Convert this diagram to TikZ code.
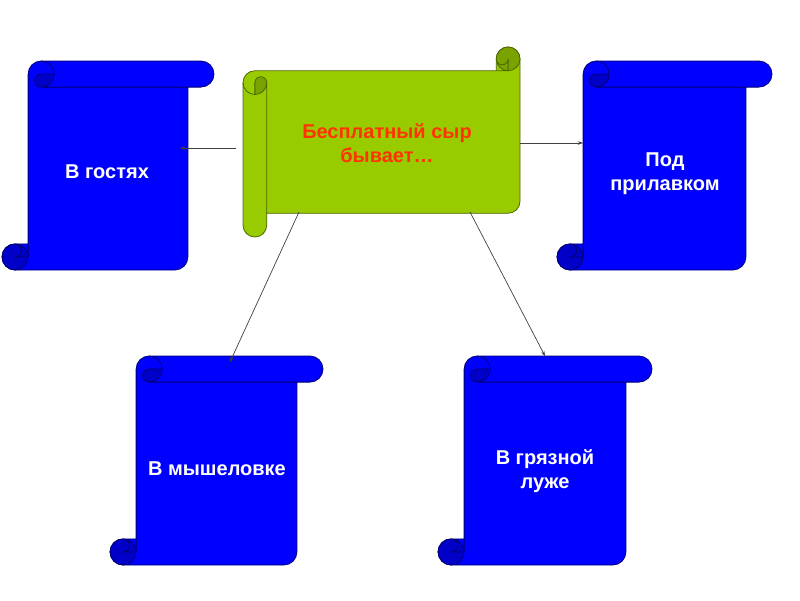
\documentclass[tikz,border=0pt]{standalone}
\usepackage{fontspec}
\setmainfont{Liberation Sans}
\usetikzlibrary{arrows.meta}
\definecolor{blueMain}{HTML}{0000FF}
\definecolor{blueDark}{HTML}{0000C8}
\definecolor{blueLine}{HTML}{000070}
\definecolor{greenMain}{HTML}{99CC00}
\definecolor{greenDark}{HTML}{7AA300}
\definecolor{greenLine}{HTML}{4C6600}
\definecolor{redText}{HTML}{FF3300}

% vertical scroll: l t w h c fill dark line   (y axis points down)
\newcommand{\drawvscroll}[8]{%
\begin{scope}[shift={(#1,#2)}]
\pgfmathsetmacro\zzW{#3}\pgfmathsetmacro\zzH{#4}\pgfmathsetmacro\zzC{#5}%
\pgfmathsetmacro\zzB{\zzC/2}\pgfmathsetmacro\zzQ{\zzC/4}%
\pgfmathsetmacro\zzXc{1.5*\zzC}\pgfmathsetmacro\zzXd{2*\zzC}%
\pgfmathsetmacro\zzXf{\zzW-\zzC}\pgfmathsetmacro\zzXg{\zzW-\zzB}%
\pgfmathsetmacro\zzYc{\zzH-\zzC}\pgfmathsetmacro\zzYd{\zzH-\zzB}%
\filldraw[fill=#6, draw=#8, scrollline]
 (\zzC,\zzYc) -- (\zzC,\zzB) arc[start angle=180, delta angle=90, radius=\zzB]
 -- (\zzXg,0) arc[start angle=270, delta angle=180, radius=\zzB]
 -- (\zzXf,\zzC) -- (\zzXf,\zzYd) arc[start angle=0, delta angle=90, radius=\zzB]
 -- (\zzB,\zzH) arc[start angle=90, delta angle=180, radius=\zzB] -- cycle;
\fill[#7] (\zzB,\zzYd) circle[radius=\zzB];
\fill[#7] (\zzXd,\zzB) arc[start angle=0, delta angle=90, radius=\zzB]
 arc[start angle=90, delta angle=180, radius=\zzQ] -- cycle;
\draw[draw=#8, scrollline]
 (\zzXc,0) arc[start angle=270, delta angle=180, radius=\zzB]
 arc[start angle=90, delta angle=180, radius=\zzQ] -- (\zzXd,\zzB)
 (\zzXf,\zzC) -- (\zzXc,\zzC)
 (\zzB,\zzYc) arc[start angle=270, delta angle=180, radius=\zzQ] -- (\zzC,\zzYd)
 (\zzB,\zzYd) circle[radius=\zzB]
 (\zzC,\zzYd) -- (\zzC,\zzYc);
\end{scope}}

% horizontal scroll: l t w h c fill dark line
\newcommand{\drawhscroll}[8]{%
\begin{scope}[shift={(#1,#2)}]
\pgfmathsetmacro\zzW{#3}\pgfmathsetmacro\zzH{#4}\pgfmathsetmacro\zzC{#5}%
\pgfmathsetmacro\zzB{\zzC/2}\pgfmathsetmacro\zzQ{\zzC/4}%
\pgfmathsetmacro\zzYc{1.5*\zzC}\pgfmathsetmacro\zzYd{2*\zzC}%
\pgfmathsetmacro\zzXf{\zzW-\zzC}\pgfmathsetmacro\zzXg{\zzW-\zzB}%
\pgfmathsetmacro\zzYf{\zzH-\zzC}\pgfmathsetmacro\zzYg{\zzH-\zzB}%
\filldraw[fill=#6, draw=#8, scrollline]
 (\zzXf,\zzC) -- (\zzB,\zzC) arc[start angle=-90, delta angle=-90, radius=\zzB]
 -- (0,\zzYg) arc[start angle=180, delta angle=-180, radius=\zzB]
 -- (\zzC,\zzYf) -- (\zzXg,\zzYf) arc[start angle=90, delta angle=-90, radius=\zzB]
 -- (\zzW,\zzB) arc[start angle=0, delta angle=-180, radius=\zzB] -- cycle;
\fill[#7] (\zzXg,\zzB) circle[radius=\zzB];
\fill[#7] (\zzB,\zzYd) arc[start angle=90, delta angle=-90, radius=\zzB]
 arc[start angle=0, delta angle=-180, radius=\zzQ] -- cycle;
\draw[draw=#8, scrollline]
 (0,\zzYc) arc[start angle=180, delta angle=-180, radius=\zzB]
 arc[start angle=0, delta angle=-180, radius=\zzQ] -- (\zzB,\zzYd)
 (\zzC,\zzYf) -- (\zzC,\zzYc)
 (\zzXf,\zzB) arc[start angle=180, delta angle=-180, radius=\zzQ] -- (\zzXg,\zzC)
 (\zzXg,\zzB) circle[radius=\zzB]
 (\zzXg,\zzC) -- (\zzXf,\zzC);
\end{scope}}

\begin{document}
\begin{tikzpicture}[x=1pt,y=1pt,yscale=-1,
  scrollline/.style={line width=0.8pt, line join=round},
  wtext/.style={text=white, font=\bfseries\fontsize{20}{24}\selectfont, align=center, inner sep=0pt},
  rtext/.style={text=redText, font=\bfseries\fontsize{20}{24}\selectfont, align=center, inner sep=0pt},
  conn/.style={draw=black!75, line width=0.7pt, -{Stealth[length=5pt,width=3.5pt]}}]
\useasboundingbox (0,0) rectangle (800,600);
\fill[white] (0,0) rectangle (800,600);

\drawvscroll{2}{61}{212}{209}{26.1}{blueMain}{blueDark}{blueLine}
\drawvscroll{557}{61}{215}{209}{26.1}{blueMain}{blueDark}{blueLine}
\drawvscroll{110}{356}{213}{209}{26.1}{blueMain}{blueDark}{blueLine}
\drawvscroll{438}{356}{214}{209}{26.1}{blueMain}{blueDark}{blueLine}
\drawhscroll{243}{47}{277}{190}{23.75}{greenMain}{greenDark}{greenLine}

\node[rtext] (syr) at (387,143) {Бесплатный сыр\\бывает…};
\node[wtext] (gost) at (107,172) {В гостях};
\node[wtext] (prilav) at (665,174) {Под\\прилавком};
\node[wtext] (mysh) at (217,469) {В мышеловке};
\node[wtext] (luzha) at (545,471) {В грязной\\луже};

\coordinate (syrW) at (236,148);   \coordinate (gostE) at (180,148);
\coordinate (syrE) at (520,143);   \coordinate (prilavW) at (583,143);
\coordinate (syrSW) at (299,212);  \coordinate (myshN) at (230,362);
\coordinate (syrSE) at (470,212);  \coordinate (luzhaN) at (545,356);

\draw[conn] (syrW) -- (gostE);
\draw[conn] (syrE) -- (prilavW);
\draw[conn] (syrSW) -- (myshN);
\draw[conn] (syrSE) -- (luzhaN);
\end{tikzpicture}
\end{document}
